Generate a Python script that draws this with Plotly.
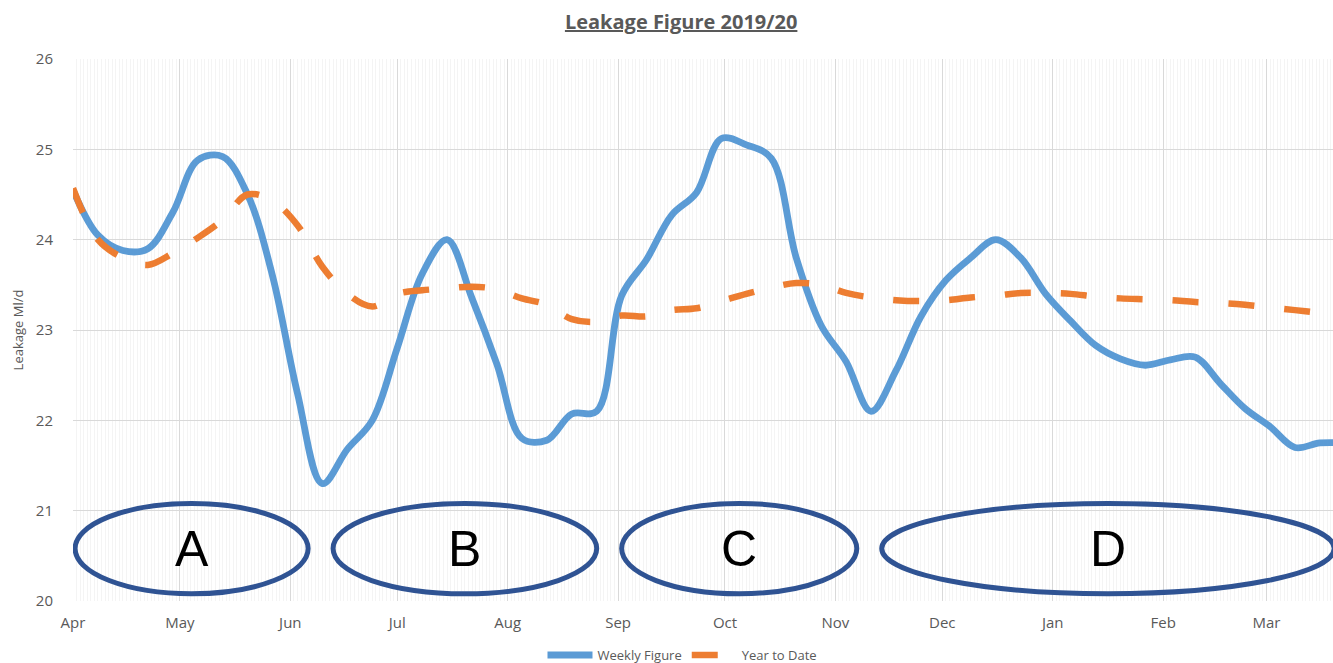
import plotly.graph_objects as go
import pandas as pd

# ---- data ----
start_date = "2019-04-01"
weekly_figure = [24.55, 24.05, 23.88, 23.90, 24.30, 24.88, 24.92, 24.50, 23.60, 22.30,
                 21.30, 21.68, 22.00, 22.80, 23.62, 24.00, 23.35, 22.62, 21.80, 21.78,
                 22.07, 22.10, 23.38, 23.78, 24.27, 24.52, 25.12, 25.05, 24.90, 23.80,
                 23.05, 22.65, 22.10, 22.55, 23.15, 23.55, 23.80, 24.00, 23.80, 23.40,
                 23.10, 22.83, 22.68, 22.61, 22.67, 22.70, 22.41, 22.13, 21.93, 21.70,
                 21.75, 21.75]
year_to_date = [24.57, 24.00, 23.80, 23.72, 23.85, 24.02, 24.22, 24.50, 24.43, 24.16,
                23.70, 23.40, 23.26, 23.40, 23.44, 23.46, 23.48, 23.45, 23.35, 23.28,
                23.12, 23.09, 23.16, 23.15, 23.22, 23.24, 23.32, 23.40, 23.47, 23.52,
                23.50, 23.41, 23.36, 23.33, 23.32, 23.33, 23.36, 23.38, 23.41, 23.41,
                23.40, 23.37, 23.35, 23.34, 23.33, 23.31, 23.30, 23.28, 23.25, 23.22,
                23.19, 23.17]
dates = pd.date_range(start_date, periods=len(weekly_figure), freq="7D")

# highlighted periods (ellipses): label, start, end
period_labels = ["A", "B", "C", "D"]
period_starts = ["2019-04-01 14:00", "2019-06-13", "2019-09-02", "2019-11-14"]
period_ends = ["2019-06-06", "2019-08-26", "2019-11-07", "2020-03-20"]
period_low, period_high = 20.08, 21.08

x_range = ["2019-04-01", "2020-03-19 16:00"]
y_range = [20, 26]

grey = "#595959"
font_family = "Open Sans, Noto Sans, Liberation Sans, sans-serif"

fig = go.Figure()
fig.add_trace(go.Scatter(
    x=dates, y=weekly_figure, name="Weekly Figure", mode="lines",
    line=dict(color="#5B9BD5", width=6.8, shape="spline", smoothing=1.0),
))
fig.add_trace(go.Scatter(
    x=dates, y=year_to_date, name="Year to Date", mode="lines",
    line=dict(color="#ED7D31", width=6.5, shape="spline", smoothing=1.0, dash="26px,30px"),
))

for lab, s, e in zip(period_labels, period_starts, period_ends):
    fig.add_shape(type="circle", xref="x", yref="y", x0=s, x1=e,
                  y0=period_low, y1=period_high,
                  line=dict(color="#2F5393", width=5), layer="above")
    mid = pd.Timestamp(s) + (pd.Timestamp(e) - pd.Timestamp(s)) / 2
    fig.add_annotation(x=mid, y=(period_low + period_high) / 2, xref="x", yref="y",
                       text=lab, showarrow=False,
                       font=dict(size=50, color="black", family="Liberation Sans, Arial, sans-serif"))

fig.update_layout(
    width=1333, height=663,
    margin=dict(l=73, r=0, t=59, b=62, autoexpand=False),
    paper_bgcolor="white", plot_bgcolor="white",
    font=dict(family=font_family, color=grey),
    title=dict(text="<b><u>Leakage Figure 2019/20</u></b>", x=0.511, xanchor="center",
               yref="container", y=1 - 22 / 663, yanchor="middle",
               font=dict(size=20, color=grey, family=font_family)),
    showlegend=True,
    legend=dict(orientation="h", xref="container", x=0.512, xanchor="center",
                yref="container", y=0.012, yanchor="middle",
                font=dict(size=13, color=grey), itemwidth=45,
                bgcolor="rgba(0,0,0,0)"),
    xaxis=dict(
        type="date", range=x_range, tick0="2019-04-01", dtick="M1", tickformat="%b",
        showgrid=True, gridcolor="#d9d9d9", gridwidth=1, automargin=False,
        minor=dict(dtick=86400000, showgrid=True, gridcolor="#f4f4f4", gridwidth=1),
        tickfont=dict(size=15, color=grey), ticks="", showline=False, zeroline=False,
        ticklabelstandoff=11,
    ),
    yaxis=dict(
        range=y_range, dtick=1, showgrid=True, gridcolor="#d9d9d9", gridwidth=1,
        automargin=False,
        tickfont=dict(size=15, color=grey), ticks="", showline=False, zeroline=False,
        ticklabelstandoff=19,
        title=dict(text="Leakage Ml/d", font=dict(size=13, color=grey), standoff=9),
    ),
)

fig.write_html("out.html", config={"displayModeBar": False},
               post_script="document.body.style.margin='0';document.body.style.overflow='hidden';")
